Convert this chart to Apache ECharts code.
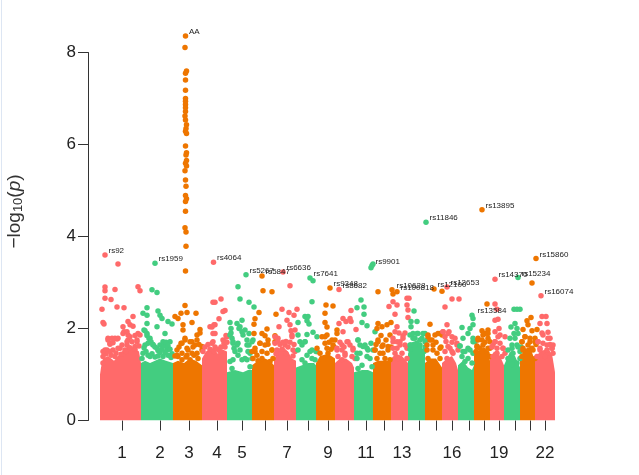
<!DOCTYPE html>
<html><head><meta charset="utf-8">
<style>html,body{margin:0;padding:0;background:#fff}#c{width:639px;height:475px;position:relative}
#edge{position:absolute;left:1px;top:0;width:1px;height:475px;background:#dde6f3;z-index:2}</style>
<script src="https://cdn.jsdelivr.net/npm/echarts@6/dist/echarts.min.js"></script>
</head><body><div id="edge"></div><div id="c"></div>
<script>
const chromColors = ['#FF6A6A','#43CD80','#EE7600'];
const tickPositions = [22,60,89,117,142,165,187,208,228,248,266,284,302,319,336,352,369,384,399,415,430,445];
const shownChromosomes = [1,2,3,4,5,7,9,11,13,16,19,22];

// Upper edge of the dense mass of each chromosome: [position, -log10 p]
const mass = [
 [[0,1.0],[1,1.15],[3,1.35],[8,1.4],[14,1.3],[18,1.4],[22,1.5],[28,1.62],[34,1.58],[39,1.5],[41,1.25]],
 [[41,1.25],[45,1.3],[50,1.25],[55,1.3],[60,1.35],[66,1.3],[73,1.25]],
 [[73,1.25],[78,1.3],[84,1.25],[90,1.35],[96,1.3],[102,1.2]],
 [[102,1.35],[106,1.5],[112,1.58],[118,1.45],[122,1.55],[127,1.5]],
 [[127,1.05],[135,1.1],[143,1.05],[148,1.1],[152,1.1]],
 [[152,1.2],[158,1.3],[165,1.35],[170,1.3],[174,1.2]],
 [[174,1.3],[178,1.55],[183,1.6],[188,1.5],[192,1.35],[196,1.3]],
 [[196,1.15],[202,1.2],[208,1.25],[214,1.25],[216,1.2]],
 [[216,1.25],[220,1.4],[228,1.45],[235,1.35]],
 [[235,1.25],[240,1.35],[246,1.35],[252,1.25],[254,1.15]],
 [[254,1.05],[262,1.1],[268,1.1],[273,1.05]],
 [[273,1.25],[278,1.3],[285,1.3],[291,1.3]],
 [[291,1.35],[296,1.45],[302,1.4],[308,1.25]],
 [[308,1.45],[312,1.7],[318,1.75],[323,1.55],[325,1.45]],
 [[325,1.25],[330,1.35],[336,1.35],[342,1.15]],
 [[342,1.25],[347,1.35],[352,1.4],[356,1.25],[358,1.1]],
 [[358,1.2],[363,1.3],[368,1.15],[372,1.1],[374,1.2]],
 [[374,1.4],[378,1.5],[384,1.6],[388,1.5],[390,1.3]],
 [[390,1.35],[394,1.5],[400,1.4],[404,1.2]],
 [[404,1.2],[410,1.5],[415,1.4],[420,1.15]],
 [[420,1.35],[424,1.55],[430,1.6],[435,1.3]],
 [[435,1.35],[440,1.5],[446,1.55],[452,1.45],[455,1.05]]
];

// Individually visible SNPs: [position, -log10 p]
const chr1 = [[5,3.6],[18,3.4],[5,2.9],[5,2.82],[5,2.66],[15,2.85],[11,2.63],[38,2.91],[40,2.82],[2,2.42],[17,2.47],[24,2.45],[33,2.26],[3,2.13],[4,2.10],[28,2.15],[23,2.04],[30,2.08],[33,2.05],[24,1.93],[28,1.86],[38,1.89],[8,1.79],[15,1.79],[18,1.79],[10,1.68],[28,1.75],[27,1.64],[37,1.71],[5,1.53],[13,1.53],[20,1.57],[25,1.53],[35,1.61],[3,1.39],[15,1.39]];
const chr2 = [[55,3.42],[52,2.84],[57,2.78],[47,2.45],[43,2.33],[47,2.29],[58,2.38],[60,2.29],[62,2.22],[47,2.11],[68,2.15],[72,2.10],[57,2.04],[44,1.97],[47,1.89],[65,1.89],[50,1.79],[48,1.68],[45,1.64],[57,1.57],[63,1.71],[70,1.71],[60,1.64],[43,1.46],[50,1.39],[67,1.53],[63,1.39],[53,1.64]];
const chr3 = [[85.5,8.36],[85,8.11],[86.5,7.6],[85.5,7.55],[85.5,7.4],[85.5,7.18],[85.5,7.0],[85.5,6.94],[85.5,6.87],[85.5,6.8],[85.5,6.72],[85,6.62],[85.5,6.53],[86.5,6.43],[86,6.35],[85.5,6.29],[86.5,6.24],[85.5,5.97],[86.5,5.82],[86,5.77],[86.5,5.65],[85.5,5.59],[86.5,5.53],[85,5.43],[85.5,5.23],[86,5.09],[85.5,4.89],[86.5,4.82],[85.5,4.76],[85.5,4.55],[85,4.19],[86,4.10],[86,3.79],[85.5,3.25],[85,2.50],[81,2.33],[87,2.35],[96,2.33],[75,2.26],[78,2.22],[92,2.13],[83,2.08],[83,1.97],[100,1.98],[97,1.86],[85,1.79],[92,1.71],[81,1.68],[95,1.64],[102,1.61],[77,1.53],[88,1.53],[87,1.42],[97,1.46],[78,1.39]];
const chr4 = [[113.5,3.44],[113,2.57],[110,2.04],[114,2.08],[113,1.89],[115,2.57],[121,2.64],[125,2.39],[123,2.37],[119,2.21],[115,2.08],[112,2.03],[115,1.89],[127,1.82],[125,1.71],[113,1.71]];
const chr5 = [[146,3.17],[138,2.91],[140,2.64],[149,2.57],[154,2.47],[130,2.13],[137,2.11],[142,2.18],[131,2.0],[140,2.04],[145,1.97],[149,1.89],[130,1.86],[133,1.71],[153,1.75],[138,1.68],[147,1.64],[134,1.57],[140,1.53],[150,1.46],[145,1.35]];
const chr6 = [[162,3.14],[163,2.82],[172,2.80],[159,2.35],[155,2.21],[154,2.09],[167,1.99],[176,2.31],[154,1.89],[162,1.89],[165,1.84],[175,1.84],[160,1.68],[168,1.66],[155,1.5],[172,1.53],[162,1.35]];
const chr7 = [[183,3.23],[190,2.93],[182,2.42],[189,2.35],[197,2.42],[194,2.29],[179,2.04],[187,2.18],[190,2.08],[195,1.97],[192,1.86],[178,1.79],[185,1.64],[193,1.53],[175,1.68],[177,1.53]];
const chr8 = [[210,3.10],[213,3.04],[212,2.58],[205,2.26],[208,2.26],[207,2.17],[209,2.10],[198,2.13],[198,1.86],[207,1.87],[213,1.92],[217,1.82],[205,1.71],[202,1.64],[212,1.53],[216,1.5]];
const chr9 = [[230,2.88],[226,2.51],[233,2.49],[225,2.33],[225,2.13],[227,2.03],[237,1.97],[237,1.89],[225,1.82],[232,1.75],[233,1.64],[227,1.57]];
const chr10 = [[239,2.85],[251,2.39],[250,2.22],[243,2.22],[239,2.11],[246,2.15],[251,2.15],[256,1.98],[243,1.93],[248,1.71],[242,1.64],[237,1.53],[253,1.57],[245,1.46]];
const chr11 = [[271,3.32],[272,3.37],[273,3.40],[261,2.62],[264,2.47],[257,2.45],[264,2.31],[262,2.13],[267,2.06],[275,1.93],[258,1.75],[271,1.68],[260,1.64],[267,1.57],[257,1.46],[273,1.53]];
const chr12 = [[278,2.80],[292,2.84],[297,2.80],[293,2.75],[278,2.11],[287,2.08],[291,2.13],[277,2.0],[282,2.04],[278,1.75],[282,1.61],[288,1.61],[275,1.53],[283,1.46]];
const chr13 = [[307,2.66],[309,2.66],[293,2.58],[297,2.51],[289,2.48],[307,2.51],[295,2.31],[308,2.40],[308,2.24],[297,2.04],[295,1.93],[293,1.79],[303,1.84],[300,1.71],[305,1.64],[297,1.57]];
const chr14 = [[326,4.31],[314,2.38],[311,2.15],[317,2.15],[311,2.04],[310,1.86],[317,1.89],[325,1.89],[313,1.79],[322,1.79],[325,1.71],[310,1.64]];
const chr15 = [[334,2.86],[342,2.81],[330,2.09],[328,1.86],[335,1.86],[340,1.89],[330,1.75],[333,1.64],[340,1.57],[327,1.53]];
const chr16 = [[347,2.9],[345,2.47],[352,2.64],[359,2.64],[347,2.08],[343,1.93],[349,1.93],[345,1.82],[352,1.82],[357,1.68],[348,1.61],[352,1.5]];
const chr17 = [[372,2.29],[373,2.22],[373,2.08],[370,2.0],[362,2.02],[368,1.89],[363,1.79],[373,1.79],[360,1.62],[368,1.57],[375,1.71],[363,1.5]];
const chr18 = [[382,4.58],[387,2.53],[382,1.95],[388,1.97],[385,1.89],[378,1.79],[382,1.75],[388,1.79],[377,1.62],[383,1.64],[390,1.57],[378,1.46],[387,1.46]];
const chr19 = [[395,3.07],[395,2.53],[397,2.42],[395,2.18],[398,2.2],[399,2.0],[400,1.86],[395,1.71],[405,1.82],[397,1.57],[393,1.64],[403,1.57]];
const chr20 = [[418,3.11],[414,2.42],[417,2.42],[420,2.42],[415,2.11],[411,2.03],[417,2.0],[414,1.89],[410,1.79],[418,1.89],[417,1.64],[412,1.57],[420,1.5]];
const chr21 = [[436,3.52],[432,2.99],[431,2.24],[427,2.17],[428,2.08],[423,1.98],[437,1.98],[425,1.82],[430,1.79],[422,1.71],[435,1.71],[423,1.57],[432,1.57],[428,1.46]];
const chr22 = [[441,2.71],[442,2.26],[446,2.26],[440,2.11],[447,2.11],[448,1.92],[443,1.86],[450,1.79],[438,1.71],[447,1.64],[452,1.57],[440,1.57],[448,1.46]];
const snps = [chr1,chr2,chr3,chr4,chr5,chr6,chr7,chr8,chr9,chr10,chr11,chr12,chr13,chr14,chr15,chr16,chr17,chr18,chr19,chr20,chr21,chr22];

// SNPs traced along the crowded band just above each mass
const band1 = [[8,1.75],[12,1.79],[17,1.77],[10,1.66],[13,1.69],[7,1.53],[10,1.5],[18,1.57],[23,1.89],[27,1.93],[30,1.82],[35,1.85],[40,1.86],[27,1.71],[32,1.71],[37,1.75],[22,1.64],[6,1.45],[11,1.42],[16,1.47],[21,1.44],[26,1.5],[30,1.58],[35,1.55],[39,1.62],[3,1.25],[3,1.5]];
const band2 = [[45,1.95],[47,1.85],[49,1.78],[51,1.71],[53,1.65],[55,1.6],[58,1.52],[60,1.48],[44,1.58],[46,1.5],[62,1.55],[64,1.62],[66,1.7],[68,1.62],[70,1.55],[72,1.45],[48,1.42],[52,1.45],[55,1.38],[68,1.42],[65,1.48],[58,1.4],[42,1.35],[71,1.37]];
const band3 = [[82,1.68],[85,1.75],[90,1.71],[93,1.6],[97,1.75],[100,1.9],[87,1.57],[92,1.46],[77,1.42],[82,1.46],[102,1.53],[98,1.35],[82,1.32],[90,1.32],[79,1.6],[75,1.4],[94,1.42],[86,1.38],[99,1.65]];
const band4 = [[103,1.5],[105,1.6],[108,1.65],[112,1.68],[115,1.6],[118,1.55],[121,1.6],[124,1.68],[126,1.85],[125,1.6],[127,1.7],[110,1.55],[120,1.5],[114,1.5],[123,1.75]];
const band5 = [[131,1.9],[132,1.79],[133,1.68],[137,1.64],[139,2.0],[142,1.93],[143,1.86],[147,1.75],[149,1.64],[152,1.71],[135,1.5],[138,1.42],[142,1.32],[148,1.5],[152,1.35],[130,1.28],[133,1.32],[147,1.32],[132,1.13],[150,1.17]];
const band6 = [[152,1.5],[155,1.57],[160,1.68],[165,1.64],[172,1.53],[157,1.42],[167,1.46],[173,1.35],[162,1.5],[168,1.75],[175,1.71],[153,1.35],[170,1.28],[158,1.3]];
const band7 = [[175,1.82],[178,1.72],[180,1.65],[188,1.6],[192,1.82],[191,1.95],[186,1.72],[183,1.7],[190,1.7],[194,1.65],[195,1.5],[182,1.55],[176,1.45],[186,1.45],[193,1.4]];
const band8 = [[205,1.71],[200,1.71],[210,1.5],[217,1.5],[198,1.53],[202,1.32],[212,1.35],[207,1.42],[215,1.32],[205,1.25]];
const band9 = [[217,1.57],[222,1.82],[227,1.86],[225,1.68],[220,1.46],[228,1.46],[223,1.32],[231,1.55],[234,1.6],[229,1.7],[235,1.75]];
const band10 = [[237,1.57],[242,1.53],[247,1.71],[250,1.64],[253,1.53],[245,1.42],[238,1.39],[252,1.39],[255,1.35],[242,1.32],[240,1.7],[244,1.6]];
const band11 = [[258,1.75],[263,1.61],[268,1.53],[260,1.46],[270,1.35],[257,1.35],[267,1.39],[262,1.2],[272,1.17],[258,1.13],[265,1.64]];
const band12 = [[275,1.53],[278,1.71],[283,1.64],[288,1.53],[280,1.46],[290,1.86],[277,1.35],[285,1.35],[290,1.32],[286,1.75],[281,1.85],[276,1.65],[291,1.6]];
const band13 = [[293,1.71],[297,1.71],[300,1.64],[303,1.79],[307,1.57],[295,1.46],[302,1.46],[307,1.35],[298,1.35],[293,1.57],[305,1.9],[299,1.9]];
const band14 = [[313,1.89],[318,1.89],[323,1.89],[315,1.79],[320,1.75],[327,1.75],[311,1.64],[325,1.6],[315,1.64],[320,1.64],[310,1.55],[324,1.5]];
const band15 = [[328,1.82],[332,1.75],[327,1.64],[333,1.53],[338,1.89],[342,1.86],[337,1.46],[340,1.35],[328,1.35],[336,1.7],[341,1.6]];
const band16 = [[343,1.93],[348,1.89],[355,1.79],[357,1.64],[350,1.57],[345,1.5],[353,1.46],[358,1.53],[347,1.35],[352,1.7],[346,1.72]];
const band17 = [[360,1.62],[365,1.5],[370,1.53],[373,1.71],[362,1.39],[368,1.35],[373,1.46],[365,1.28],[372,1.25]];
const band18 = [[377,1.6],[378,1.75],[383,1.86],[388,1.89],[390,1.71],[380,1.57],[388,1.57],[377,1.42],[390,1.39],[385,1.7],[376,1.5]];
const band19 = [[395,1.71],[400,1.68],[392,1.6],[403,1.57],[405,1.46],[397,1.46],[393,1.39],[402,1.39],[395,1.93],[398,1.82]];
const band20 = [[408,1.53],[412,1.64],[415,1.79],[418,1.6],[408,1.35],[413,1.46],[420,1.35],[417,1.25],[412,1.22],[421,1.6]];
const band21 = [[422,1.71],[425,1.82],[430,1.71],[435,1.79],[423,1.53],[433,1.53],[428,1.64],[422,1.39],[435,1.35],[432,1.95],[436,1.65]];
const band22 = [[438,1.71],[443,1.68],[448,1.79],[452,1.57],[440,1.53],[447,1.53],[453,1.46],[437,1.39],[445,1.39],[453,1.64],[450,1.65],[442,1.9]];
const bands = [band1,band2,band3,band4,band5,band6,band7,band8,band9,band10,band11,band12,band13,band14,band15,band16,band17,band18,band19,band20,band21,band22];

// Named SNPs: [position, -log10 p, name]
const namedSnps = [[85.5,8.36,'AA'],[5,3.6,'rs92'],[55,3.42,'rs1959'],[113.5,3.44,'rs4064'],[146,3.17,'rs5267'],[162,3.14,'rs5847'],[183,3.23,'rs6636'],[210,3.10,'rs7641'],[230,2.88,'rs9348'],[239,2.85,'rs8682'],[272,3.37,'rs9901'],[293,2.84,'rs10628'],[297,2.80,'rs100818'],[326,4.31,'rs11846'],[334,2.86,'rs12100'],[347,2.9,'rs12653'],[382,4.58,'rs13895'],[374,2.30,'rs13584'],[395,3.07,'rs14370'],[418,3.11,'rs15234'],[436,3.52,'rs15860'],[441,2.71,'rs16074']];

const font = '"Liberation Sans", Arial, sans-serif';
const series = [];
mass.forEach((m,i)=>{
  const color = chromColors[i%3];
  series.push({type:'line',data:m,symbol:'none',silent:true,z:2,animation:false,
    lineStyle:{width:0,color},itemStyle:{color},areaStyle:{color,opacity:1}});
});
snps.forEach((s,i)=>{
  series.push({type:'scatter',data:s.concat(bands[i]),symbol:'circle',symbolSize:5.5,clip:false,z:3,animation:false,
    itemStyle:{color:chromColors[i%3],opacity:1}});
});
series.push({type:'scatter',data:namedSnps,symbolSize:1,clip:false,z:5,animation:false,
  itemStyle:{color:'rgba(0,0,0,0)'},
  label:{show:true,position:'right',distance:0,fontFamily:font,fontSize:8,color:'#222',opacity:1,
    formatter:p=>p.data[2]},labelLayout:{hideOverlap:false,dx:3,dy:-4}});

const chart = echarts.init(document.getElementById('c'),null,{renderer:'canvas'});
chart.setOption({
  animation:false,
  backgroundColor:'#fff',
  grid:{left:100,top:52.5,width:455,height:368,outerBoundsMode:'none'},
  xAxis:{type:'value',min:0,max:455,splitLine:{show:false},
    axisLine:{show:false},
    axisTick:{show:true,length:10,customValues:tickPositions,lineStyle:{color:'#333',width:1}},
    axisLabel:{show:true,margin:24,fontFamily:font,fontSize:17,color:'#222',
      customValues:shownChromosomes.map(c=>tickPositions[c-1]),
      formatter:v=>String(tickPositions.indexOf(v)+1)}},
  yAxis:{type:'value',min:0,max:8,interval:2,offset:12,splitLine:{show:false},
    axisLine:{show:true,onZero:false,lineStyle:{color:'#333',width:1}},
    axisTick:{show:true,length:10,lineStyle:{color:'#333',width:1}},
    axisLabel:{margin:12,fontFamily:font,fontSize:17,color:'#222'},
    name:'{a|\u2212log}{b|10}{c|(}{d|p}{c|)}',nameLocation:'middle',nameGap:63,nameRotate:90,
    nameTextStyle:{padding:[0,0,0,50],fontFamily:font,
      rich:{a:{fontSize:19,color:'#333',fontFamily:font},b:{fontSize:13,color:'#333',fontFamily:font,verticalAlign:'bottom',padding:[7,0,0,0]},
        c:{fontSize:19,color:'#333',fontFamily:font},d:{fontSize:19,color:'#333',fontFamily:font,fontStyle:'italic'}}}},
  series
});
</script></body></html>
